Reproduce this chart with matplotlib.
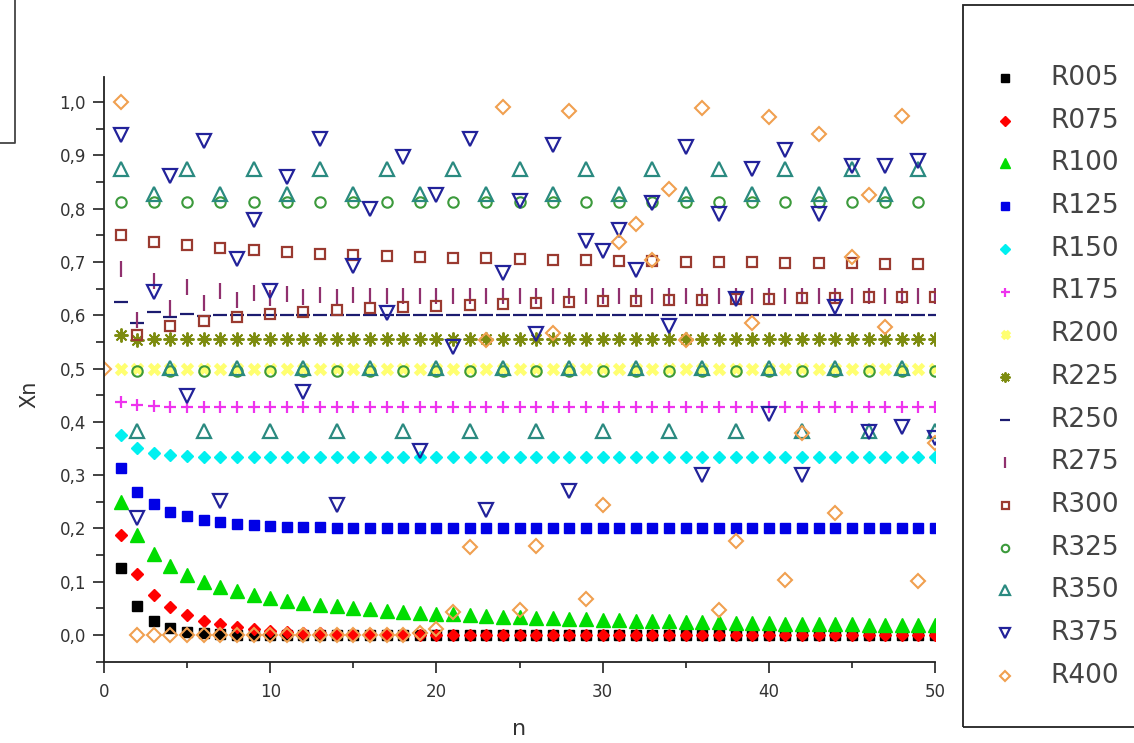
import matplotlib
matplotlib.use("Agg")
import matplotlib.pyplot as plt
from matplotlib.lines import Line2D
from matplotlib.patches import Rectangle
from matplotlib.ticker import MultipleLocator, FuncFormatter

# iteration index
n = list(range(1, 51))
n_with_start = list(range(0, 51))

R005 = [0.125, 0.0547, 0.0258, 0.0126, 0.0062, 0.0031, 0.0015, 0.0008, 0.0004, 0.0002,
        0.0001, 0.0, 0.0, 0.0, 0.0, 0.0, 0.0, 0.0, 0.0, 0.0,
        0.0, 0.0, 0.0, 0.0, 0.0, 0.0, 0.0, 0.0, 0.0, 0.0,
        0.0, 0.0, 0.0, 0.0, 0.0, 0.0, 0.0, 0.0, 0.0, 0.0,
        0.0, 0.0, 0.0, 0.0, 0.0, 0.0, 0.0, 0.0, 0.0, 0.0]
R075 = [0.1875, 0.1143, 0.0759, 0.0526, 0.0374, 0.0270, 0.0197, 0.0145, 0.0107, 0.0079,
        0.0059, 0.0044, 0.0033, 0.0025, 0.0018, 0.0014, 0.0010, 0.0008, 0.0006, 0.0004,
        0.0003, 0.0002, 0.0002, 0.0001, 0.0001, 0.0, 0.0, 0.0, 0.0, 0.0,
        0.0, 0.0, 0.0, 0.0, 0.0, 0.0, 0.0, 0.0, 0.0, 0.0,
        0.0, 0.0, 0.0, 0.0, 0.0, 0.0, 0.0, 0.0, 0.0, 0.0]
R100 = [0.25, 0.1875, 0.1523, 0.1291, 0.1124, 0.0998, 0.0898, 0.0817, 0.0750, 0.0694,
        0.0646, 0.0604, 0.0568, 0.0536, 0.0507, 0.0481, 0.0458, 0.0437, 0.0418, 0.0401,
        0.0385, 0.0370, 0.0356, 0.0343, 0.0331, 0.0320, 0.0310, 0.0300, 0.0291, 0.0283,
        0.0275, 0.0267, 0.0260, 0.0253, 0.0247, 0.0241, 0.0235, 0.0230, 0.0225, 0.0220,
        0.0215, 0.0210, 0.0206, 0.0202, 0.0198, 0.0194, 0.0190, 0.0187, 0.0183, 0.0180]
R125 = [0.3125, 0.2686, 0.2456, 0.2316, 0.2225, 0.2162, 0.2118, 0.2087, 0.2064, 0.2047,
        0.2035, 0.2026, 0.2019, 0.2014, 0.2010, 0.2008, 0.2006, 0.2004, 0.2003, 0.2002,
        0.2001, 0.2001, 0.2, 0.2, 0.2, 0.2, 0.2, 0.2, 0.2, 0.2,
        0.2, 0.2, 0.2, 0.2, 0.2, 0.2, 0.2, 0.2, 0.2, 0.2,
        0.2, 0.2, 0.2, 0.2, 0.2, 0.2, 0.2, 0.2, 0.2, 0.2]
R150 = [0.375, 0.3516, 0.3420, 0.3375, 0.3354, 0.3344, 0.3339, 0.3336, 0.3335, 0.3334,
        0.3333, 0.3333, 0.3333, 0.3333, 0.3333, 0.3333, 0.3333, 0.3333, 0.3333, 0.3333,
        0.3333, 0.3333, 0.3333, 0.3333, 0.3333, 0.3333, 0.3333, 0.3333, 0.3333, 0.3333,
        0.3333, 0.3333, 0.3333, 0.3333, 0.3333, 0.3333, 0.3333, 0.3333, 0.3333, 0.3333,
        0.3333, 0.3333, 0.3333, 0.3333, 0.3333, 0.3333, 0.3333, 0.3333, 0.3333, 0.3333]
R175 = [0.4375, 0.4307, 0.4291, 0.4287, 0.4286, 0.4286, 0.4286, 0.4286, 0.4286, 0.4286,
        0.4286, 0.4286, 0.4286, 0.4286, 0.4286, 0.4286, 0.4286, 0.4286, 0.4286, 0.4286,
        0.4286, 0.4286, 0.4286, 0.4286, 0.4286, 0.4286, 0.4286, 0.4286, 0.4286, 0.4286,
        0.4286, 0.4286, 0.4286, 0.4286, 0.4286, 0.4286, 0.4286, 0.4286, 0.4286, 0.4286,
        0.4286, 0.4286, 0.4286, 0.4286, 0.4286, 0.4286, 0.4286, 0.4286, 0.4286, 0.4286]
R200 = [0.5, 0.5, 0.5, 0.5, 0.5, 0.5, 0.5, 0.5, 0.5, 0.5,
        0.5, 0.5, 0.5, 0.5, 0.5, 0.5, 0.5, 0.5, 0.5, 0.5,
        0.5, 0.5, 0.5, 0.5, 0.5, 0.5, 0.5, 0.5, 0.5, 0.5,
        0.5, 0.5, 0.5, 0.5, 0.5, 0.5, 0.5, 0.5, 0.5, 0.5,
        0.5, 0.5, 0.5, 0.5, 0.5, 0.5, 0.5, 0.5, 0.5, 0.5]
R225 = [0.5625, 0.5537, 0.5560, 0.5554, 0.5556, 0.5556, 0.5556, 0.5556, 0.5556, 0.5556,
        0.5556, 0.5556, 0.5556, 0.5556, 0.5556, 0.5556, 0.5556, 0.5556, 0.5556, 0.5556,
        0.5556, 0.5556, 0.5556, 0.5556, 0.5556, 0.5556, 0.5556, 0.5556, 0.5556, 0.5556,
        0.5556, 0.5556, 0.5556, 0.5556, 0.5556, 0.5556, 0.5556, 0.5556, 0.5556, 0.5556,
        0.5556, 0.5556, 0.5556, 0.5556, 0.5556, 0.5556, 0.5556, 0.5556, 0.5556, 0.5556]
R250 = [0.625, 0.5859, 0.6065, 0.5966, 0.6017, 0.5992, 0.6004, 0.5998, 0.6001, 0.6,
        0.6, 0.6, 0.6, 0.6, 0.6, 0.6, 0.6, 0.6, 0.6, 0.6,
        0.6, 0.6, 0.6, 0.6, 0.6, 0.6, 0.6, 0.6, 0.6, 0.6,
        0.6, 0.6, 0.6, 0.6, 0.6, 0.6, 0.6, 0.6, 0.6, 0.6,
        0.6, 0.6, 0.6, 0.6, 0.6, 0.6, 0.6, 0.6, 0.6, 0.6]
R275 = [0.6875, 0.5908, 0.6649, 0.6128, 0.6525, 0.6236, 0.6455, 0.6293, 0.6415, 0.6324,
        0.6394, 0.6341, 0.6381, 0.6351, 0.6374, 0.6357, 0.6369, 0.6360, 0.6367, 0.6361,
        0.6366, 0.6362, 0.6365, 0.6363, 0.6364, 0.6364, 0.6364, 0.6364, 0.6364, 0.6364,
        0.6364, 0.6364, 0.6364, 0.6364, 0.6364, 0.6364, 0.6364, 0.6364, 0.6364, 0.6364,
        0.6364, 0.6364, 0.6364, 0.6364, 0.6364, 0.6364, 0.6364, 0.6364, 0.6364, 0.6364]
R300 = [0.75, 0.5625, 0.7383, 0.5797, 0.7310, 0.5899, 0.7257, 0.5972, 0.7217, 0.6026,
        0.7184, 0.6069, 0.7157, 0.6104, 0.7134, 0.6134, 0.7114, 0.6159, 0.7097, 0.6181,
        0.7082, 0.6200, 0.7068, 0.6217, 0.7056, 0.6232, 0.7045, 0.6246, 0.7034, 0.6259,
        0.7025, 0.6271, 0.7016, 0.6282, 0.7008, 0.6292, 0.7000, 0.6301, 0.6993, 0.6310,
        0.6986, 0.6318, 0.6980, 0.6326, 0.6974, 0.6333, 0.6968, 0.6340, 0.6963, 0.6346]
R325 = [0.8125, 0.4951, 0.8124, 0.4953, 0.8124, 0.4953, 0.8124, 0.4953, 0.8124, 0.4953,
        0.8124, 0.4953, 0.8124, 0.4953, 0.8124, 0.4953, 0.8124, 0.4953, 0.8124, 0.4953,
        0.8124, 0.4953, 0.8124, 0.4953, 0.8124, 0.4953, 0.8124, 0.4953, 0.8124, 0.4953,
        0.8124, 0.4953, 0.8124, 0.4953, 0.8124, 0.4953, 0.8124, 0.4953, 0.8124, 0.4953,
        0.8124, 0.4953, 0.8124, 0.4953, 0.8124, 0.4953, 0.8124, 0.4953, 0.8124, 0.4953]
R350 = [0.875, 0.3828, 0.8269, 0.5009, 0.875, 0.3828, 0.8269, 0.5009, 0.875, 0.3828,
        0.8269, 0.5009, 0.875, 0.3828, 0.8269, 0.5009, 0.875, 0.3828, 0.8269, 0.5009,
        0.875, 0.3828, 0.8269, 0.5009, 0.875, 0.3828, 0.8269, 0.5009, 0.875, 0.3828,
        0.8269, 0.5009, 0.875, 0.3828, 0.8269, 0.5009, 0.875, 0.3828, 0.8269, 0.5009,
        0.875, 0.3828, 0.8269, 0.5009, 0.875, 0.3828, 0.8269, 0.5009, 0.875, 0.3828]
R375 = [0.9375, 0.2197, 0.6429, 0.8609, 0.4491, 0.9278, 0.2512, 0.7054, 0.7793, 0.6450,
        0.8587, 0.4550, 0.9299, 0.2444, 0.6925, 0.7985, 0.6034, 0.8974, 0.3453, 0.825,
        0.54, 0.93, 0.235, 0.68, 0.815, 0.565, 0.92, 0.27, 0.74, 0.72,
        0.76, 0.685, 0.81, 0.58, 0.915, 0.30, 0.79, 0.63, 0.875, 0.415,
        0.91, 0.30, 0.79, 0.615, 0.88, 0.38, 0.88, 0.39, 0.89, 0.37]
# R400 also shows its starting value at n = 0
R400 = [0.5,
        1.0, 0.0, 0.0, 0.0, 0.0, 0.0, 0.0, 0.0, 0.0, 0.0,
        0.0, 0.0, 0.0, 0.0, 0.0, 0.0, 0.0, 0.0, 0.003, 0.012,
        0.043, 0.165, 0.553, 0.99, 0.047, 0.167, 0.566, 0.983, 0.067, 0.243,
        0.737, 0.772, 0.703, 0.836, 0.553, 0.988, 0.047, 0.177, 0.585, 0.972,
        0.103, 0.379, 0.94, 0.229, 0.709, 0.825, 0.578, 0.973, 0.101, 0.36]

labels = ["R005", "R075", "R100", "R125", "R150", "R175", "R200", "R225",
          "R250", "R275", "R300", "R325", "R350", "R375", "R400"]
values = [R005, R075, R100, R125, R150, R175, R200, R225,
          R250, R275, R300, R325, R350, R375, R400]

styles = [
    dict(marker='s', ms=7.5, mfc='#000000', mec='#000000', mew=1),
    dict(marker='D', ms=6.5, mfc='#ff0000', mec='#ff0000', mew=1),
    dict(marker='^', ms=9.5, mfc='#00dd00', mec='#00dd00', mew=1),
    dict(marker='s', ms=7.5, mfc='#0000e6', mec='#0000e6', mew=1),
    dict(marker='D', ms=6.5, mfc='#00f0f0', mec='#00f0f0', mew=1),
    dict(marker='+', ms=9, color='#ee33ee', mew=1.6),
    dict(marker='x', ms=7, color='#ffff70', mew=3.5),
    dict(marker=(8, 2, 0), ms=10, color='#7d8c10', mew=1.4),
    dict(marker='_', ms=10, color='#1c1c70', mew=1.6),
    dict(marker='|', ms=11, color='#90306e', mew=1.6),
    dict(marker='s', ms=7, mfc='none', mec='#9a3a30', mew=1.6),
    dict(marker='o', ms=7.5, mfc='none', mec='#3c9a3c', mew=1.5),
    dict(marker='^', ms=10, mfc='none', mec='#2a8a80', mew=1.6),
    dict(marker='v', ms=10, mfc='none', mec='#22229a', mew=1.6),
    dict(marker='D', ms=7.5, mfc='none', mec='#f0a050', mew=1.5),
]

W, H = 1134, 743
fig = plt.figure(figsize=(W / 100, H / 100), dpi=100)
fig.patch.set_facecolor('white')
ax = fig.add_axes([104 / W, 1 - 662 / H, (935 - 104) / W, (662 - 77) / H])

for lab, vals, st in zip(labels, values, styles):
    xs = n_with_start if len(vals) == 51 else n
    ax.plot(xs, vals, linestyle='none', label=lab, clip_on=True, **st)

ax.set_xlim(0, 50)
ax.set_ylim(-0.0507, 1.047)
for s in ('top', 'right'):
    ax.spines[s].set_visible(False)
for s in ('left', 'bottom'):
    ax.spines[s].set_linewidth(1.3)
    ax.spines[s].set_color('#222222')

ax.xaxis.set_major_locator(MultipleLocator(10))
ax.xaxis.set_minor_locator(MultipleLocator(5))
ax.yaxis.set_major_locator(MultipleLocator(0.1))
ax.yaxis.set_minor_locator(MultipleLocator(0.05))
ax.yaxis.set_major_formatter(FuncFormatter(lambda v, p: f"{v:.1f}".replace('.', ',')))
ax.xaxis.set_major_formatter(FuncFormatter(lambda v, p: f"{v:.0f}"))

ax.tick_params(axis='both', which='major', direction='out', length=8, width=1.2,
               color='#222222', labelsize=12, labelcolor='#333333')
ax.tick_params(axis='y', which='minor', direction='out', length=6, width=1.2, color='#222222')
ax.tick_params(axis='x', which='minor', direction='out', length=4, width=1.2, color='#222222')
ax.tick_params(axis='y', which='major', pad=5)
ax.tick_params(axis='x', which='major', pad=7)

ax.set_xlabel('n', fontsize=16, color='#333333')
ax.xaxis.set_label_coords(0.5, -0.0974)
ax.set_ylabel('Xn', fontsize=15, color='#333333')
ax.yaxis.set_label_coords(-0.078, 0.457)

# legend panel on the right
fig.add_artist(Rectangle((963 / W, 1 - 727 / H), (1150 - 963) / W, (727 - 5) / H,
                         transform=fig.transFigure, fill=False, edgecolor='#222222',
                         linewidth=1.3, clip_on=False))
legend_scale = 0.72
for i, (lab, st) in enumerate(zip(labels, styles)):
    yy = 1 - (78 + 42.7 * i) / H
    st2 = dict(st)
    st2['ms'] = st['ms'] * legend_scale
    fig.add_artist(Line2D([1005 / W], [yy], linestyle='none', transform=fig.transFigure, **st2))
    fig.text(1050 / W, yy, lab, fontsize=19, color='#444444', va='center', ha='left')

# frame corner at the top left
fig.add_artist(Line2D([15 / W, 15 / W, 0], [1.0, 1 - 143 / H, 1 - 143 / H],
                      transform=fig.transFigure, color='#444444', linewidth=1.3))

fig.savefig('out.png', dpi=100, facecolor='white')
